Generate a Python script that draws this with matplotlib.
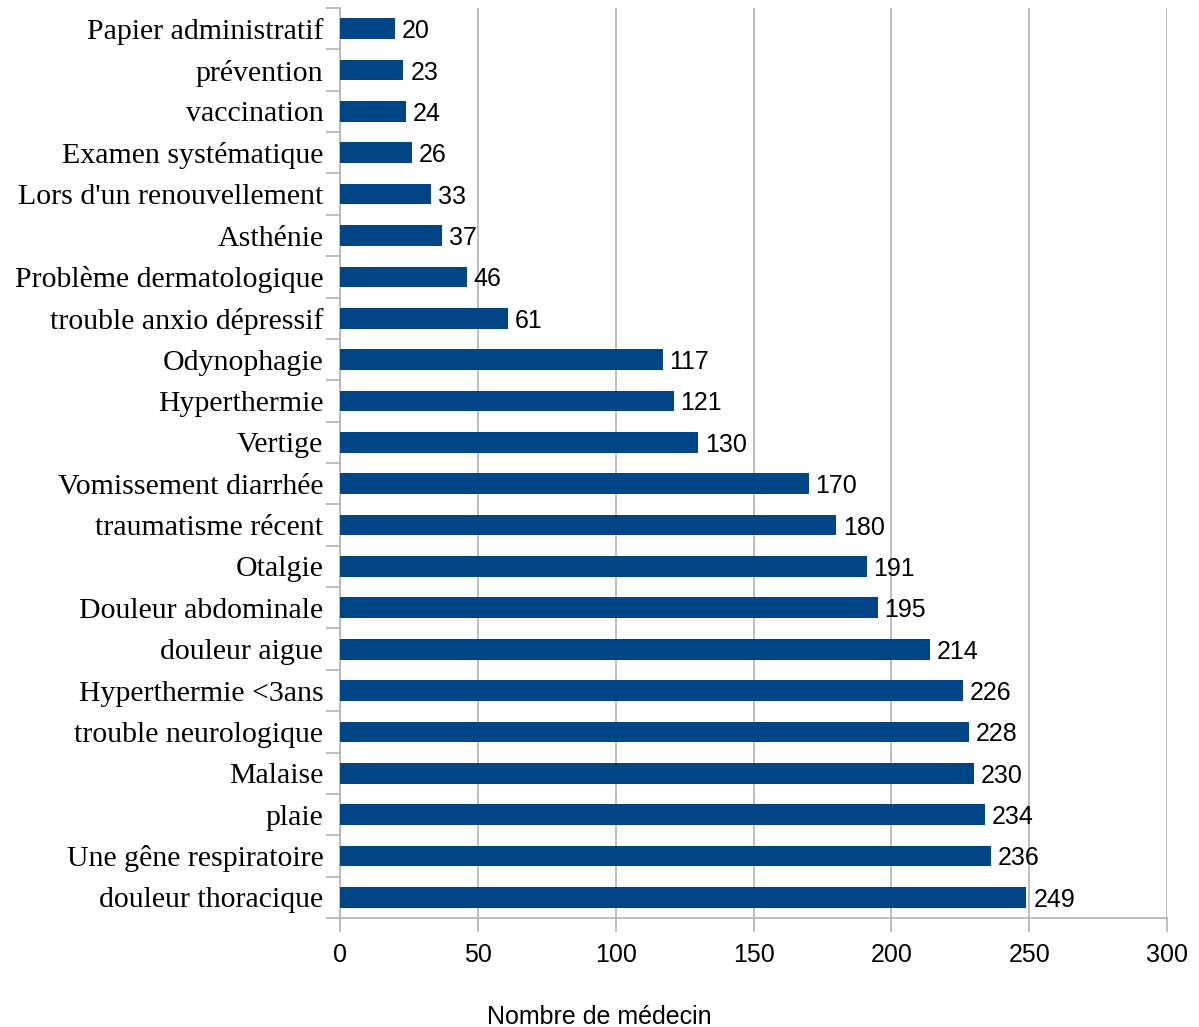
import matplotlib.pyplot as plt

# categories from top to bottom as in the chart
categories = ["Papier administratif", "prévention", "vaccination", "Examen systématique",
              "Lors d'un renouvellement", "Asthénie", "Problème dermatologique",
              "trouble anxio dépressif", "Odynophagie", "Hyperthermie", "Vertige",
              "Vomissement diarrhée", "traumatisme récent", "Otalgie", "Douleur abdominale",
              "douleur aigue", "Hyperthermie <3ans", "trouble neurologique", "Malaise",
              "plaie", "Une gêne respiratoire", "douleur thoracique"]
values = [20, 23, 24, 26, 33, 37, 46, 61, 117, 121, 130, 170, 180, 191, 195,
          214, 226, 228, 230, 234, 236, 249]
xticks = [0, 50, 100, 150, 200, 250, 300]

fig = plt.figure(figsize=(11.99, 10.27), dpi=100)
ax = fig.add_axes([0.2836, 0.1061, 0.9733 - 0.2836, 0.9922 - 0.1061])

n = len(categories)
pos = list(range(n))
ax.barh(pos, values, height=0.5, color='#004586', zorder=3)
for p, v in zip(pos, values):
    ax.text(v + 2.5, p, str(v), va='center_baseline', ha='left', fontsize=18,
            family='Liberation Sans', zorder=4)

ax.set_ylim(n - 0.5, -0.5)
ax.set_xlim(0, 300)
ax.set_xticks(xticks)
ax.set_xticklabels([str(t) for t in xticks], fontsize=18, family='Liberation Sans')
ax.set_yticks(pos)
ax.set_yticklabels(categories, fontsize=21.5, family='Liberation Serif')
ax.tick_params(axis='y', length=0, pad=12)
ax.set_yticks([p - 0.5 for p in pos] + [n - 0.5], minor=True)
ax.tick_params(axis='y', which='minor', length=10, color='#b3b3b3', width=1.2)
ax.tick_params(axis='x', length=10, color='#b3b3b3', width=1.2, pad=8)

ax.grid(axis='x', color='#b3b3b3', linewidth=1.2, zorder=0)
for s in ['top', 'right']:
    ax.spines[s].set_visible(False)
for s in ['left', 'bottom']:
    ax.spines[s].set_color('#b3b3b3')
    ax.spines[s].set_linewidth(1.2)

fig.text(0.5, -0.002, 'Nombre de médecin', ha='center', va='bottom', fontsize=18,
         family='Liberation Sans')

fig.savefig('out.png', dpi=100)
